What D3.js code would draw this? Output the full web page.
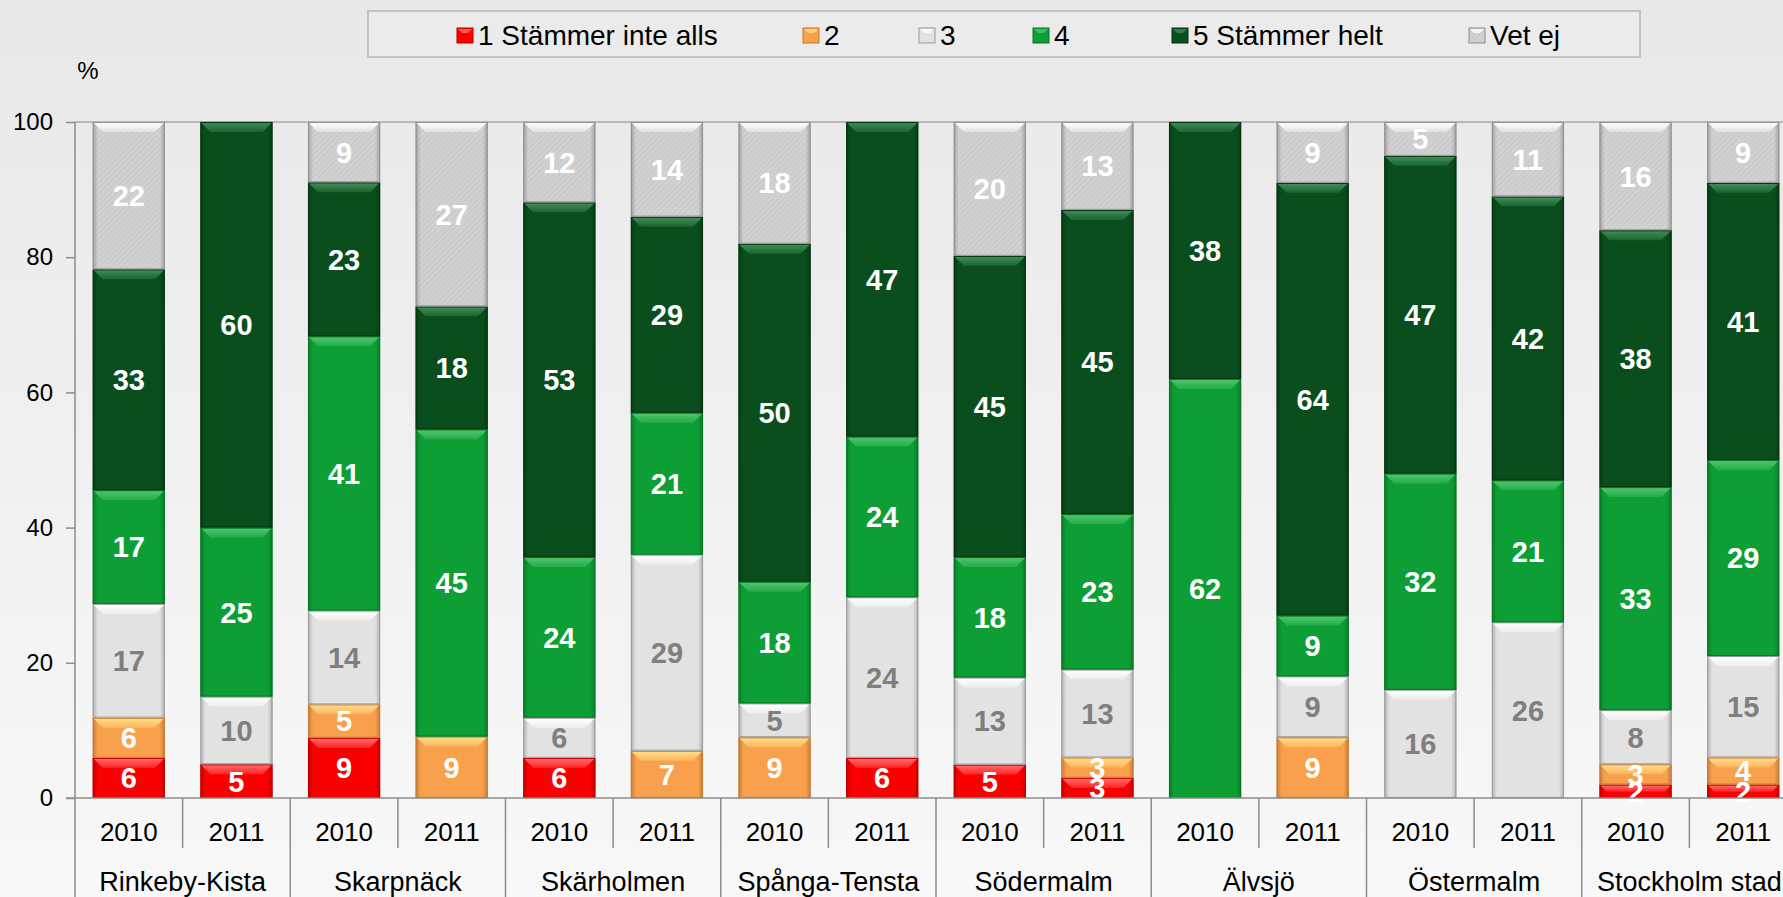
<!DOCTYPE html>
<html>
<head>
<meta charset="utf-8">
<script src="https://cdn.jsdelivr.net/npm/d3@7"></script>
<style>
html,body{margin:0;padding:0;overflow:hidden;background:#f0f0f0;}
svg{display:block;font-family:"Liberation Sans",Arial,sans-serif;}
</style>
</head>
<body>
<svg id="chart" width="1783" height="897"></svg>
<script>
// ---------- data ----------
const groups = ["Rinkeby-Kista","Skarpnäck","Skärholmen","Spånga-Tensta","Södermalm","Älvsjö","Östermalm","Stockholm stad"];
const years = ["2010","2011"];
const seriesNames = ["1 Stämmer inte alls","2","3","4","5 Stämmer helt","Vet ej"];
// values in bar order: group1 2010, group1 2011, group2 2010, ...
const s1 = [6,5, 9,0, 6,0, 0,6, 5,3, 0,0, 0,0, 2,2];
const s2 = [6,0, 5,9, 0,7, 9,0, 0,3, 0,9, 0,0, 3,4];
const s3 = [17,10, 14,0, 6,29, 5,24, 13,13, 0,9, 16,26, 8,15];
const s4 = [17,25, 41,45, 24,21, 18,24, 18,23, 62,9, 32,21, 33,29];
const s5 = [33,60, 23,18, 53,29, 50,47, 45,45, 38,64, 47,42, 38,41];
const s6 = [22,0, 9,27, 12,14, 18,0, 20,13, 0,9, 5,11, 16,9];
const yTicks = [0,20,40,60,80,100];

const seriesValues = [s1,s2,s3,s4,s5,s6];
const keys = seriesNames;
const rows = [];
groups.forEach((g,gi)=>years.forEach((yr,yi)=>{
  const idx = gi*2+yi;
  const r = {id: g+"|"+yr, group: g, year: yr};
  keys.forEach((k,ki)=>{ r[k] = seriesValues[ki][idx]; });
  rows.push(r);
}));

// ---------- styles ----------
const styles = [
  {base:"#fb0000", hi:"#ff6a6a", stroke:"#b80000", label:"#ffffff"},
  {base:"#f9a04c", hi:"#ffdc86", stroke:"#c07a32", label:"#ffffff"},
  {base:"#e2e2e2", hi:"#ffffff", stroke:"#999999", label:"#7f7f7f"},
  {base:"#0d9f35", hi:"#4fc46d", stroke:"#0a7427", label:"#ffffff"},
  {base:"#094e1c", hi:"#3f8c57", stroke:"#05320f", label:"#ffffff"},
  {base:"url(#hatch)", hi:"#ffffff", stroke:"#8e8e8e", label:"#ffffff"}
];

const W = 1783, H = 897;
const svg = d3.select("#chart");
const defs = svg.append("defs");

const bg = defs.append("linearGradient").attr("id","bg").attr("x1",0).attr("y1",0).attr("x2",0).attr("y2",1);
bg.append("stop").attr("offset","0%").attr("stop-color","#e8e8e8");
bg.append("stop").attr("offset","100%").attr("stop-color","#f8f8f8");

const hatch = defs.append("pattern").attr("id","hatch").attr("patternUnits","userSpaceOnUse")
  .attr("width",4).attr("height",4).attr("patternTransform","rotate(45)");
hatch.append("rect").attr("width",4).attr("height",4).attr("fill","#cbcbcb");
hatch.append("rect").attr("width",1.6).attr("height",4).attr("fill","#d4d4d4");

const side = defs.append("linearGradient").attr("id","side").attr("x1",0).attr("y1",0).attr("x2",1).attr("y2",0);
[[0,0.22],[0.07,0.0],[0.93,0.0],[1,0.22]].forEach(([o,a])=>side.append("stop").attr("offset",o).attr("stop-color","#000").attr("stop-opacity",a));

styles.forEach((s,i)=>{
  const g = defs.append("linearGradient").attr("id","hi"+i).attr("x1",0).attr("y1",0).attr("x2",0).attr("y2",1);
  g.append("stop").attr("offset","0%").attr("stop-color",s.hi).attr("stop-opacity",1);
  g.append("stop").attr("offset","100%").attr("stop-color",s.hi).attr("stop-opacity",0.35);
});

svg.append("rect").attr("width",W).attr("height",H).attr("fill","url(#bg)");

// ---------- scales ----------
const x = d3.scaleBand().domain(rows.map(r=>r.id)).range([75,1797]).paddingInner(0.33).paddingOuter(0.165);
const y = d3.scaleLinear().domain([0,1]).range([798,122]);
const bw = x.bandwidth();
const step = x.step();

const stack = d3.stack().keys(keys).offset(d3.stackOffsetExpand);
const stacked = stack(rows);

// ---------- axes frame ----------
const axisColor = "#8c8c8c";
svg.append("line").attr("x1",75).attr("x2",W).attr("y1",y(1)).attr("y2",y(1)).attr("stroke","#a6a6a6").attr("stroke-width",1.5);

// ---------- bars ----------
const barsG = svg.append("g");
stacked.forEach((ser,si)=>{
  const st = styles[si];
  const g = barsG.append("g");
  const segs = g.selectAll("g.seg").data(ser.filter(d=>d.data[ser.key]>0)).join("g").attr("class","seg");
  segs.each(function(d){
    const sel = d3.select(this);
    const x0 = x(d.data.id), yTop = y(d[1]), yBot = y(d[0]), h = yBot - yTop;
    sel.append("rect").attr("x",x0).attr("y",yTop).attr("width",bw).attr("height",h).attr("fill",st.base);
    sel.append("rect").attr("x",x0).attr("y",yTop).attr("width",bw).attr("height",h).attr("fill","url(#side)");
    const dd = Math.min(9, h/2.2);
    sel.append("polygon")
      .attr("points",[[x0+1,yTop+1],[x0+bw-1,yTop+1],[x0+bw-1-dd,yTop+1+dd],[x0+1+dd,yTop+1+dd]].map(p=>p.join(",")).join(" "))
      .attr("fill","url(#hi"+si+")");
    sel.append("rect").attr("x",x0+0.5).attr("y",yTop+0.5).attr("width",bw-1).attr("height",Math.max(0,h-1))
      .attr("fill","none").attr("stroke",st.stroke).attr("stroke-width",1.2).attr("stroke-opacity",0.8);
  });
});

// ---------- value labels ----------
const labG = svg.append("g");
stacked.forEach((ser,si)=>{
  labG.selectAll(null).data(ser.filter(d=>d.data[ser.key]>0)).join("text")
    .attr("x",d=>x(d.data.id)+bw/2)
    .attr("y",d=>(y(d[0])+y(d[1]))/2)
    .attr("dy","0.36em")
    .attr("text-anchor","middle")
    .attr("font-size",29).attr("font-weight","bold")
    .attr("fill",styles[si].label)
    .text(d=>d.data[ser.key]);
});

// ---------- y axis ----------
svg.append("line").attr("x1",75).attr("x2",75).attr("y1",y(1)).attr("y2",H).attr("stroke",axisColor).attr("stroke-width",1.5);
const yAxis = d3.axisLeft(y).tickValues(yTicks.map(v=>v/100)).tickFormat(d=>Math.round(d*100)).tickSize(9).tickPadding(13);
const ya = svg.append("g").attr("transform","translate(75,0)").call(yAxis);
ya.select(".domain").remove();
ya.selectAll(".tick line").attr("stroke",axisColor).attr("stroke-width",1.5);
ya.selectAll(".tick text").attr("font-size",24).attr("fill","#000").attr("font-family","Liberation Sans, Arial, sans-serif");
svg.append("text").attr("x",88).attr("y",71).attr("dy","0.35em").attr("text-anchor","middle").attr("font-size",24).text("%");

// baseline
svg.append("line").attr("x1",66).attr("x2",W).attr("y1",y(0)).attr("y2",y(0)).attr("stroke",axisColor).attr("stroke-width",1.5);

// ---------- x axis (two levels) ----------
const xa = svg.append("g");
rows.forEach((r,i)=>{
  const cx = x(r.id)+bw/2;
  xa.append("text").attr("x",cx).attr("y",832).attr("dy","0.35em").attr("text-anchor","middle")
    .attr("font-size",26).attr("fill","#000").text(r.year);
  const sepX = x(r.id) - (step-bw)/2;
  if(i>0){
    const isGroup = r.year===years[0];
    xa.append("line").attr("x1",sepX).attr("x2",sepX).attr("y1",y(0)).attr("y2",isGroup?H:848)
      .attr("stroke",axisColor).attr("stroke-width",1.5);
  }
});
groups.forEach(g=>{
  const a = x(g+"|"+years[0]), b = x(g+"|"+years[1]);
  xa.append("text").attr("x",(a+b+bw)/2).attr("y",882).attr("dy","0.35em").attr("text-anchor","middle")
    .attr("font-size",27).attr("fill","#000").text(g);
});

// ---------- legend ----------
const lg = svg.append("g");
lg.append("rect").attr("x",368).attr("y",11).attr("width",1272).attr("height",46)
  .attr("fill","#ebebeb").attr("stroke","#c2c2c2").attr("stroke-width",2);
const legX = [457,803,919,1033,1172,1469];
seriesNames.forEach((n,i)=>{
  const st = styles[i];
  const gx = legX[i];
  lg.append("rect").attr("x",gx).attr("y",28).attr("width",16).attr("height",15).attr("fill",st.base)
    .attr("stroke",st.stroke).attr("stroke-width",1);
  lg.append("polygon").attr("points",[[gx+1,29],[gx+15,29],[gx+11,33],[gx+5,33]].map(p=>p.join(",")).join(" "))
    .attr("fill",st.hi).attr("opacity",0.8);
  lg.append("text").attr("x",gx+21).attr("y",35).attr("dy","0.35em").attr("font-size",28).attr("fill","#000").text(n);
});
</script>
</body>
</html>
